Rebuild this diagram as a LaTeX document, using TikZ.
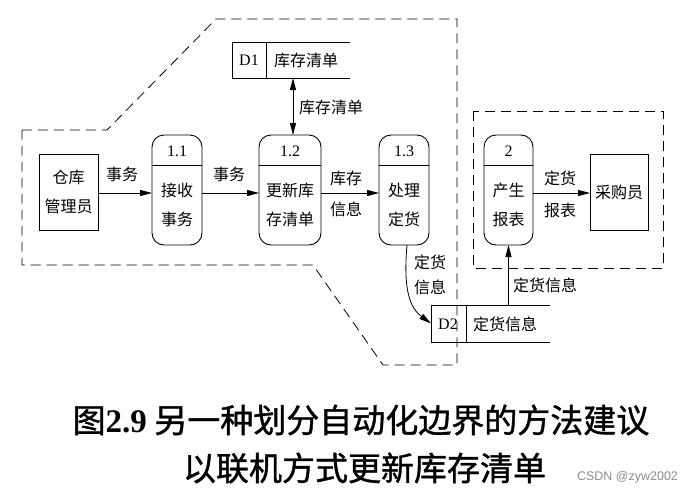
\documentclass[tikz,border=0pt]{standalone}
\usepackage{fontspec}
\setmainfont{Liberation Serif}
\newfontfamily\cjk{Noto Sans CJK SC}
\newfontfamily\cjkcap{Noto Sans CJK SC}[FakeBold=1.2]
\newfontfamily\wmfont{Liberation Sans}
\usetikzlibrary{arrows.meta}
\begin{document}
\begin{tikzpicture}[x=1pt,y=-1pt,
  every node/.style={inner sep=0pt, outer sep=0pt},
  lbl/.style={font=\cjk\fontsize{16}{29}\selectfont, align=center},
  num/.style={font=\fontsize{16}{18}\selectfont},
  proc/.style={draw, line width=0.9pt, rounded corners=12pt, minimum width=#1, minimum height=110pt},
  ext/.style={draw, line width=0.9pt, minimum height=76pt, minimum width=#1},
  store/.style={minimum width=#1, minimum height=36pt},
  arr/.style={line width=0.8pt, -{Triangle[length=12pt,width=6pt]}},
  darr/.style={line width=0.8pt, {Triangle[length=12pt,width=6pt]}-{Triangle[length=12pt,width=6pt]}},
  bound/.style={line width=0.8pt, dash pattern=on 10pt off 6pt},
]
\useasboundingbox (0,0) rectangle (693,493);

% external entities
\node[ext=59pt, lbl] (mgr) at (68.5,192) {仓库\\管理员};
\node[ext=58pt, lbl] (buyer) at (619,192) {采购员};

% processes
\node[proc=50pt] (p11) at (177,190) {};
\node[proc=62pt] (p12) at (290,190) {};
\node[proc=50pt] (p13) at (404,190) {};
\node[proc=49pt] (p2) at (508.5,190) {};
\foreach \p in {p11,p12,p13,p2}{
  \draw[line width=0.9pt] ([yshift=-30pt]\p.north west) -- ([yshift=-30pt]\p.north east);
}
\node[num] (p11n) at ([yshift=-16pt]p11.north) {1.1};
\node[num] (p12n) at ([yshift=-16pt]p12.north) {1.2};
\node[num] (p13n) at ([yshift=-16pt]p13.north) {1.3};
\node[num] (p2n) at ([yshift=-16pt]p2.north) {2};
\node[lbl] (p11t) at (177,205) {接收\\事务};
\node[lbl] (p12t) at (290,205) {更新库\\存清单};
\node[lbl] (p13t) at (404,205) {处理\\定货};
\node[lbl] (p2t) at (508.5,205) {产生\\报表};

% data stores
\node[store=118pt] (d1) at (291,60) {};
\draw[line width=0.9pt] (d1.north east) -- (d1.north west) -- (d1.south west) -- (d1.south east);
\draw[line width=0.9pt] (d1.north west) ++(34,0) -- ++(0,36);
\node[num] (d1id) at (249,60) {D1};
\node[lbl] (d1t) at (306,60) {库存清单};

\node[store=119pt, minimum height=37pt] (d2) at (490.5,323.5) {};
\draw[line width=0.9pt] (d2.north east) -- (d2.north west) -- (d2.south west) -- (d2.south east);
\draw[line width=0.9pt] (d2.north west) ++(35,0) -- ++(0,37);
\node[num] (d2id) at (448,324) {D2};
\node[lbl] (d2t) at (505,324) {定货信息};

% flows
\coordinate (ay) at (0,193);
\draw[arr] (mgr.east |- ay) -- (p11.west |- ay);
\draw[arr] (p11.east |- ay) -- (p12.west |- ay);
\draw[arr] (p12.east |- ay) -- (p13.west |- ay);
\draw[arr] (p2.east |- ay) -- (buyer.west |- ay);
\draw[darr] ([xshift=3pt]p12.north |- d1.south) -- ([xshift=3pt]p12.north);
\draw[arr] ([xshift=3pt]p13.south) .. controls (403,290) and (410,308) .. (d2.west);
\draw[arr] (d2.north -| p2.south) -- (p2.south);

% flow labels
\node[lbl] (f1) at (122,174) {事务};
\node[lbl] (f2) at (229,174) {事务};
\node[lbl] (f3a) at (346,178) {库存};
\node[lbl] (f3b) at (346,209) {信息};
\node[lbl] (f4a) at (560,178) {定货};
\node[lbl] (f4b) at (560,210) {报表};
\node[lbl, anchor=west] (f5) at (299,107) {库存清单};
\node[lbl, font=\cjk\fontsize{16}{25}\selectfont] (f6) at (430,274.5) {定货\\信息};
\node[lbl, anchor=west] (f7) at (513,285) {定货信息};

% automation boundaries
\draw[bound] (22,130) -- (107,130) -- (216,19) -- (457,19) -- (457,365) -- (383,365) -- (313,265) -- (22,265) -- cycle;
\draw[bound] (473,111) rectangle (663,268);

% caption
\node[font=\cjkcap\fontsize{33}{40}\selectfont] (cap1) at (361,420) {图{\rmfamily\bfseries 2.9} 另一种划分自动化边界的方法建议};
\node[font=\cjkcap\fontsize{33}{40}\selectfont] (cap2) at (364.5,468) {以联机方式更新库存清单};
\node[font=\wmfont\fontsize{12.5}{14}\selectfont, text=black!45] (wm) at (627.5,477) {CSDN @zyw2002};
\end{tikzpicture}
\end{document}
